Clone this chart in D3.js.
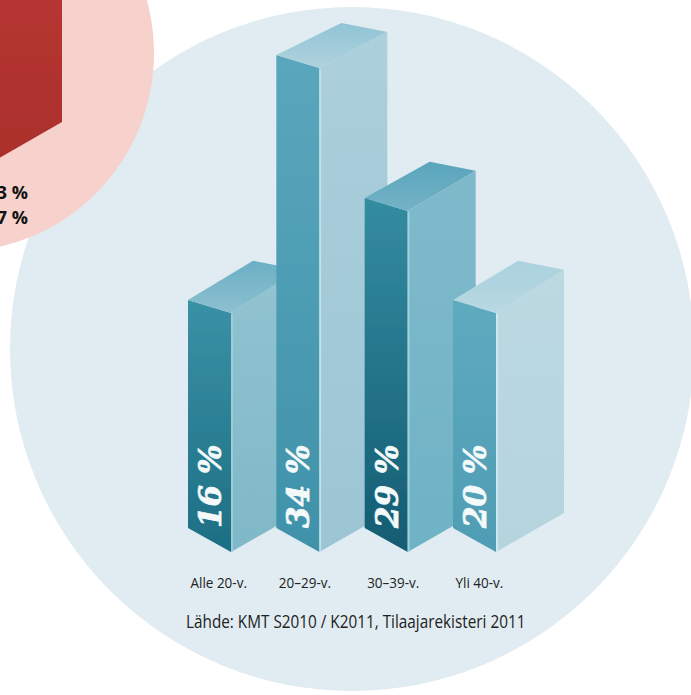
<!DOCTYPE html>
<html>
<head>
<meta charset="utf-8">
<script src="https://cdn.jsdelivr.net/npm/d3@7"></script>
<style>
html, body { margin: 0; padding: 0; background: #fff; overflow: hidden; }
svg { display: block; }
</style>
</head>
<body>
<svg id="svg1" width="691" height="695"></svg>
<script>
var categories = ['Alle 20-v.', '20–29-v.', '30–39-v.', 'Yli 40-v.'];
var shares = [16, 34, 29, 20];
var shareSuffix = ' %';
var cutOffLabels = ['3 %', '7 %'];
var sourceNote = 'Lähde: KMT S2010 / K2011, Tilaajarekisteri 2011';

var svg = d3.select('#svg1');
var defs = svg.append('defs');

defs.append('filter').attr('id', 'soft')
    .append('feGaussianBlur').attr('stdDeviation', 0.45);

// the circles behind the bars
svg.append('circle')
    .attr('cx', 352).attr('cy', 349).attr('r', 342)
    .attr('fill', '#e0ecf1');
svg.append('circle')
    .attr('cx', -45).attr('cy', 53).attr('r', 199)
    .attr('fill', '#f7d2cc');

var scaleX = d3.scalePoint().domain(categories).range([188, 453]);

// the heights in the picture are not proportional to the printed values
// (16 % and 20 % stand just as tall), so the scale is piecewise
var scaleY = d3.scaleLinear()
    .domain([16, 20, 29, 34])
    .range([313, 313, 211, 68]);

var baseY = 552;

var line = d3.line();

function addGradient(id, from, to) {
    var g = defs.append('linearGradient')
        .attr('id', id)
        .attr('x1', 0).attr('y1', 0).attr('x2', 0).attr('y2', 1);
    g.append('stop').attr('offset', '0%').attr('stop-color', from);
    g.append('stop').attr('offset', '100%').attr('stop-color', to);
    return 'url(#' + id + ')';
}

// draw one block: x is the left edge, y the top of the front edge
function drawBlock(parent, id, x, y, base, colors) {
    var g = parent.append('g').attr('filter', 'url(#soft)');
    var front = x + 43;
    var right = x + 111;
    // the top face looks a little deeper on the lower bars
    var lift = (y - 68) * 0.03;

    g.append('path')
        .attr('d', line([[x, y - 13], [front, y], [front, base], [x, base - 24]]) + 'Z')
        .attr('fill', addGradient(id + '-left', colors[0], colors[1]));
    g.append('path')
        .attr('d', line([[front, y], [right, y - 36 - lift], [right, base - 39], [front, base]]) + 'Z')
        .attr('fill', addGradient(id + '-right', colors[2], colors[3]));
    g.append('path')
        .attr('d', line([[x, y - 13], [x + 65, y - 45 - lift], [right, y - 36 - lift], [front, y]]) + 'Z')
        .attr('fill', addGradient(id + '-top', colors[4], colors[5]));
    // light edge where the two sides meet
    g.append('path')
        .attr('d', line([[front + 1, y + 1], [front + 1, base]]))
        .attr('stroke', colors[6])
        .attr('stroke-width', 1.6)
        .attr('fill', 'none');
}

var barColors = [
    ['#3a91a5', '#1d6f84', '#92c3d1', '#7fb8c8', '#6cafc4', '#8cc0d0', '#a4d0dc'],
    ['#5aa7bd', '#3f92a9', '#acd0dc', '#9cc5d4', '#90c4d5', '#b0d2dd', '#c4e0e8'],
    ['#348ca1', '#145c72', '#7fbacb', '#6fb2c6', '#59a5bc', '#74b2c6', '#a0d2e0'],
    ['#5faabf', '#4f9db4', '#bcd9e2', '#b4d4de', '#aad2de', '#b8d8e2', '#d4edf3']
];

// the red block of the neighbouring chart, mostly outside the frame
drawBlock(svg, 'red', -49, -60, 161,
    ['#8e2320', '#8e2320', '#bb3a33', '#ab2f2c', '#bb3a33', '#bb3a33', '#c9504a']);

var bars = svg.selectAll('.bar')
    .data(shares)
    .enter()
    .append('g')
    .attr('class', 'bar')
    .each(function(d, i) {
        drawBlock(d3.select(this), 'bar' + i, scaleX(categories[i]), scaleY(d), baseY, barColors[i]);
    });

// value written up the left side of each bar
svg.selectAll('.share')
    .data(shares)
    .enter()
    .append('text')
    .attr('class', 'share')
    .attr('transform', function(d, i) {
        return 'translate(' + (scaleX(categories[i]) + 33) + ',528) rotate(-90)';
    })
    .attr('font-family', '"DejaVu Serif", serif')
    .attr('font-weight', 'bold')
    .attr('font-style', 'italic')
    .attr('font-size', 31)
    .attr('fill', '#f4f9fa')
    .attr('stroke', '#f4f9fa')
    .attr('stroke-width', 0.7)
    .text(function(d) { return d + shareSuffix; });

// category labels, squeezed because no condensed font is available
var axis = svg.append('g')
    .attr('class', 'x-axis')
    .attr('transform', 'translate(2,574)')
    .call(d3.axisBottom(scaleX).tickSize(0).tickPadding(3));
axis.select('.domain').remove();
axis.selectAll('text')
    .attr('text-anchor', 'start')
    .attr('font-family', '"Open Sans", sans-serif')
    .attr('font-size', 15)
    .attr('fill', '#222')
    .attr('transform', 'scale(0.9,1)');

svg.append('text')
    .attr('transform', 'translate(186,628) scale(0.875,1)')
    .attr('font-family', '"Open Sans", sans-serif')
    .attr('font-size', 17.5)
    .attr('fill', '#222')
    .text(sourceNote);

// labels of the neighbouring chart, cut by the edge of the picture as in the original
svg.selectAll('.cut')
    .data(cutOffLabels)
    .enter()
    .append('text')
    .attr('class', 'cut')
    .attr('x', 28)
    .attr('y', function(d, i) { return 199 + i * 24.5; })
    .attr('text-anchor', 'end')
    .attr('font-family', '"Open Sans", sans-serif')
    .attr('font-weight', 'bold')
    .attr('font-size', 18)
    .attr('fill', '#111')
    .text(function(d) { return d; });
</script>
</body>
</html>
